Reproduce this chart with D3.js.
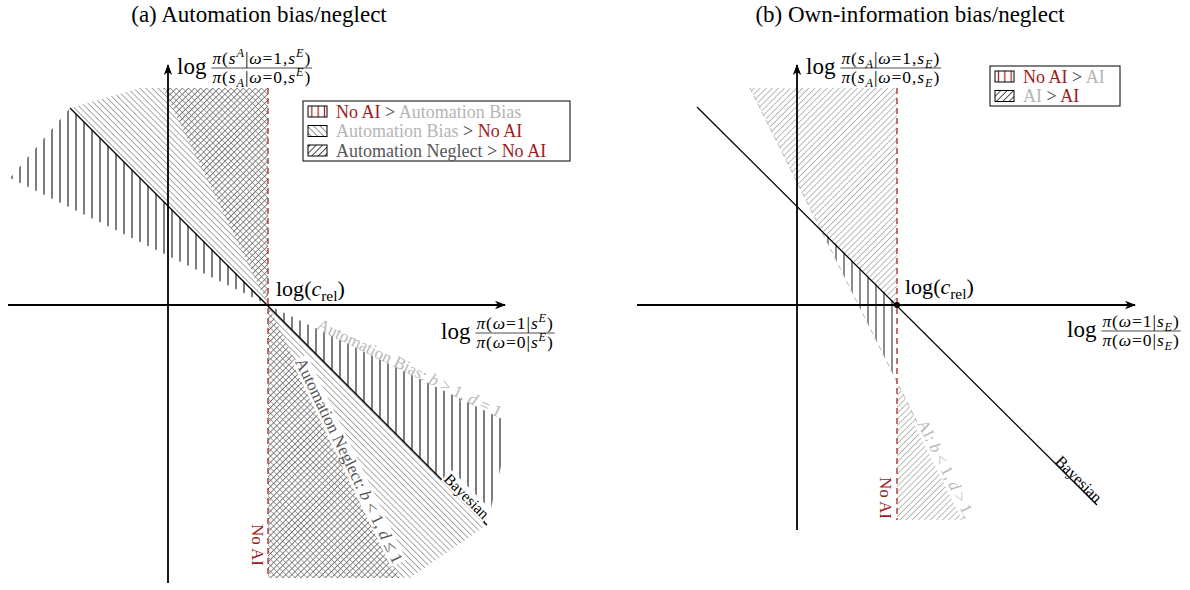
<!DOCTYPE html>
<html>
<head>
<meta charset="utf-8">
<script src="https://cdn.jsdelivr.net/npm/d3@7"></script>
<style>
  body { margin: 0; background: #fff; }
  svg { display: block; }
  text { font-family: "Liberation Serif", "DejaVu Serif", serif; }
</style>
</head>
<body>
<svg id="chart" width="1190" height="590"></svg>
<script>
// units: 1 = distance from the origin to log(c_rel) on the x axis
const cRel = [1, 0];

// ---- panel (a) automation bias / neglect ----
const aXDom = [-1.6, 3.37], aYDom = [-2.78, 2.4];
const aBayes = [[-0.98, 1.97], [3.19, -2.20]];
const aNoAI = [[1, 2.17], [1, -2.73]];
const aBiasLine = [[-1.58, 1.27], [3.34, -1.14]];      // b>1, d=1 (not stroked)
const aNeglectLine = [[-0.05, 2.17], [2.32, -2.73]];   // b<1, d<=1 (not stroked)
const aNoAIvsBiasUp = [[1, 0], [-0.98, 1.97], [-1.58, 1.27]];
const aNoAIvsBiasLow = [[1, 0], [3.34, -1.14], [3.34, -1.57], [3.19, -2.20]];
const aBiasVsNoAIUp = [[1, 0], [-0.98, 1.97], [-0.28, 2.17], [1, 2.17]];
const aBiasVsNoAILow = [[1, 0], [1, -2.73], [2.42, -2.73], [3.19, -2.20]];
const aNeglectVsNoAIUp = [[1, 0], [1, 2.17], [-0.05, 2.17]];
const aNeglectVsNoAILow = [[1, 0], [1, -2.73], [2.32, -2.73]];

// ---- panel (b) own-information bias / neglect ----
const bXDom = [-1.6, 3.38], bYDom = [-2.25, 2.4];
const bBayes = [[-1, 1.98], [3, -2]];
const bNoAI = [[1, 2.17], [1, -2.15]];
const bAILine = [[-0.47, 2.17], [1.69, -2.15]];        // b<1, d>1
const bNoAIvsAI = [[0.23, 0.77], [1, 0], [1, -0.77]];
const bAIvsAIUp = [[-0.47, 2.17], [1, 2.17], [1, 0], [0.23, 0.77]];
const bAIvsAILow = [[1, -0.77], [1, -2.15], [1.69, -2.15]];

const red = "#9e1b1b", light = "#b5b5b5", dark = "#3a3a3a", mid = "#555";

const legendA = [
  ["vLegA", [["No AI", red], [" > ", dark], ["Automation Bias", light]]],
  ["nwLeg", [["Automation Bias", light], [" > ", dark], ["No AI", red]]],
  ["neLeg", [["Automation Neglect", mid], [" > ", dark], ["No AI", red]]]
];
const legendB = [
  ["vLegB", [["No AI", red], [" > ", dark], ["AI", light]]],
  ["neLegB", [["AI", light], [" > ", dark], ["AI", red]]]
];

const svg = d3.select("#chart");
const defs = svg.append("defs");

function hatch(id, angle, gap, color, width) {
  const p = defs.append("pattern").attr("id", id)
    .attr("patternUnits", "userSpaceOnUse")
    .attr("width", gap).attr("height", gap)
    .attr("patternTransform", "rotate(" + angle + ")");
  p.append("line").attr("x1", gap / 2).attr("x2", gap / 2)
    .attr("y1", -1).attr("y2", gap + 1)
    .attr("stroke", color).attr("stroke-width", width);
}
hatch("nwA", -45, 4.3, "#8f8f8f", 0.75);
hatch("neA", 45, 4.3, "#666", 0.8);
hatch("vA", 0, 8, "#111", 1.1);
hatch("neB", 45, 4.3, "#a9a9a9", 0.8);
hatch("vB", 0, 8, "#5c5c5c", 1.4);
hatch("vLegA", 0, 6.3, red, 1.2);
hatch("vLegB", 0, 6.3, red, 1.2);
hatch("nwLeg", -45, 4.5, "#777", 0.8);
hatch("neLeg", 45, 4.5, "#222", 0.8);
hatch("neLegB", 45, 4.5, "#222", 0.8);

defs.append("marker").attr("id", "arr")
  .attr("viewBox", "0 0 12 10").attr("refX", 10).attr("refY", 5)
  .attr("markerWidth", 12).attr("markerHeight", 10)
  .attr("markerUnits", "userSpaceOnUse").attr("orient", "auto")
  .append("path").attr("d", "M0,0.8 L11,5 L0,9.2 L3,5 Z").attr("fill", "#000");

// tiny math-ish text: ^{..} superscript, _{..} subscript, single letters / greek italic
function rich(text, str, size) {
  let shift = 0;
  const toks = str.match(/(\^\{[^}]*\}|_\{[^}]*\}|[A-Za-zπω]+|[^A-Za-zπω^_]+)/g);
  toks.forEach(function(m) {
    let s = m, target = 0, fs = size;
    if (m[0] === "^") { s = m.slice(2, -1); target = -0.4 * size; fs = 0.7 * size; }
    else if (m[0] === "_") { s = m.slice(2, -1); target = 0.22 * size; fs = 0.7 * size; }
    const ital = /^[A-Za-z]$/.test(s) || /[πω]/.test(s);
    text.append("tspan")
      .attr("dy", target - shift)
      .attr("font-size", fs)
      .attr("font-style", ital ? "italic" : null)
      .text(s);
    shift = target;
  });
}

function fracLabel(g, x0, bar, num, den) {
  const lg = g.append("text").attr("x", x0).attr("y", bar + 6).attr("font-size", 23).text("log");
  const fx = x0 + lg.node().getComputedTextLength() + 5;
  const n = g.append("text").attr("y", bar - 4).attr("text-anchor", "middle").attr("letter-spacing", 0.9);
  rich(n, num, 17.5);
  const d = g.append("text").attr("y", bar + 15).attr("text-anchor", "middle").attr("letter-spacing", 0.9);
  rich(d, den, 17.5);
  const w = Math.max(n.node().getComputedTextLength(), d.node().getComputedTextLength()) + 2;
  n.attr("x", fx + w / 2);
  d.attr("x", fx + w / 2);
  g.append("line").attr("x1", fx).attr("x2", fx + w).attr("y1", bar).attr("y2", bar)
    .attr("stroke", "#000").attr("stroke-width", 0.7);
}

function lineLabel(g, x, y, seg, at, txt, color, size, dy, bg) {
  const p0 = [x(seg[0][0]), y(seg[0][1])], p1 = [x(seg[1][0]), y(seg[1][1])];
  let ang = Math.atan2(p1[1] - p0[1], p1[0] - p0[0]) * 180 / Math.PI;
  const t = g.append("g").attr("transform", "translate(" + x(at[0]) + "," + y(at[1]) + ") rotate(" + ang + ")");
  const tx = t.append("text").attr("text-anchor", "middle").attr("dy", dy)
    .attr("font-size", size).attr("fill", color);
  rich(tx, txt, size);
  if (bg) {
    const b = tx.node().getBBox();
    t.insert("rect", "text").attr("x", b.x - 1).attr("y", b.y + 1)
      .attr("width", b.width + 2).attr("height", b.height - 2).attr("fill", "#fff");
  }
}

function legend(g, x0, y0, w, h, rows) {
  g.append("rect").attr("x", x0).attr("y", y0).attr("width", w).attr("height", h)
    .attr("fill", "#fff").attr("stroke", "#000").attr("stroke-width", 1);
  rows.forEach(function(r, i) {
    const ry = y0 + 5 + i * 19.5;
    g.append("rect").attr("x", x0 + 5).attr("y", ry).attr("width", 19).attr("height", 11)
      .attr("fill", "url(#" + r[0] + ")").attr("stroke", "#000").attr("stroke-width", 1);
    const t = g.append("text").attr("x", x0 + 33).attr("y", ry + 11.5).attr("font-size", 18);
    r[1].forEach(function(p) { t.append("tspan").attr("fill", p[1]).text(p[0]); });
  });
}

function axes(g, x, y, xd, yd) {
  g.append("line").attr("x1", x(xd[0])).attr("x2", x(xd[1])).attr("y1", y(0)).attr("y2", y(0))
    .attr("stroke", "#000").attr("stroke-width", 1.8).attr("marker-end", "url(#arr)");
  g.append("line").attr("x1", x(0)).attr("x2", x(0)).attr("y1", y(yd[0])).attr("y2", y(yd[1]))
    .attr("stroke", "#000").attr("stroke-width", 1.8).attr("marker-end", "url(#arr)");
}

// ================= panel (a) =================
const xA = d3.scaleLinear().domain(aXDom).range([8, 505]);
const yA = d3.scaleLinear().domain(aYDom).range([583, 65]);
const lineA = d3.line().x(d => xA(d[0])).y(d => yA(d[1]));
const gA = svg.append("g");

[[aBiasVsNoAIUp, "nwA"], [aBiasVsNoAILow, "nwA"],
 [aNeglectVsNoAIUp, "neA"], [aNeglectVsNoAILow, "neA"],
 [aNoAIvsBiasUp, "vA"], [aNoAIvsBiasLow, "vA"]].forEach(function(r) {
  gA.append("path").attr("d", lineA(r[0]) + "Z").attr("fill", "url(#" + r[1] + ")");
});

gA.append("path").attr("d", lineA(aBayes)).attr("stroke", "#000").attr("stroke-width", 1.3).attr("fill", "none");
gA.append("path").attr("d", lineA(aNoAI)).attr("stroke", "#b03434").attr("stroke-width", 1.4)
  .attr("stroke-dasharray", "6,4").attr("fill", "none");
axes(gA, xA, yA, aXDom, aYDom);

lineLabel(gA, xA, yA, aBiasLine, [2.39, -0.68], "Automation Bias: b > 1, d = 1", "#b8b8b8", 17, -3, false);
lineLabel(gA, xA, yA, aNeglectLine, [1.76, -1.58], "Automation Neglect: b < 1, d ≤ 1", mid, 17, -3, true);
lineLabel(gA, xA, yA, aBayes, [2.95, -1.95], "Bayesian", "#000", 15.5, -2, true);
gA.append("text").attr("transform", "translate(" + xA(0.84) + "," + yA(-2.4) + ") rotate(90)")
  .attr("text-anchor", "middle").attr("font-size", 17).attr("fill", red).text("No AI");

const cA = gA.append("text").attr("x", 276).attr("y", 296);
rich(cA, "log(c_{rel})", 22);
fracLabel(gA, 177, 68, "π(s^{A}|ω=1,s^{E})", "π(s_{A}|ω=0,s^{E})");
fracLabel(gA, 441, 333, "π(ω=1|s^{E})", "π(ω=0|s^{E})");
legend(gA, 303, 101, 267, 60, legendA);
gA.append("text").attr("x", 259).attr("y", 22).attr("text-anchor", "middle").attr("font-size", 23)
  .text("(a) Automation bias/neglect");

// ================= panel (b) =================
const xB = d3.scaleLinear().domain(bXDom).range([637, 1135]);
const yB = d3.scaleLinear().domain(bYDom).range([530, 65]);
const lineB = d3.line().x(d => xB(d[0])).y(d => yB(d[1]));
const gB = svg.append("g");

[[bAIvsAIUp, "neB"], [bAIvsAILow, "neB"], [bNoAIvsAI, "vB"]].forEach(function(r) {
  gB.append("path").attr("d", lineB(r[0]) + "Z").attr("fill", "url(#" + r[1] + ")");
});
gB.append("path").attr("d", lineB(bAILine)).attr("stroke", "#b5b5b5").attr("stroke-width", 1)
  .attr("stroke-dasharray", "5,4").attr("fill", "none");

gB.append("path").attr("d", lineB(bBayes)).attr("stroke", "#000").attr("stroke-width", 1.3).attr("fill", "none");
gB.append("path").attr("d", lineB(bNoAI)).attr("stroke", "#b03434").attr("stroke-width", 1.4)
  .attr("stroke-dasharray", "6,4").attr("fill", "none");
axes(gB, xB, yB, bXDom, bYDom);
gB.append("circle").attr("cx", xB(cRel[0])).attr("cy", yB(cRel[1])).attr("r", 3).attr("fill", "#000");

lineLabel(gB, xB, yB, bAILine, [1.43, -1.64], "AI: b < 1, d > 1", "#b8b8b8", 16.5, -3, true);
lineLabel(gB, xB, yB, bBayes, [2.78, -1.78], "Bayesian", "#000", 16, -4, false);
gB.append("text").attr("transform", "translate(" + xB(0.83) + "," + yB(-1.93) + ") rotate(90)")
  .attr("text-anchor", "middle").attr("font-size", 17).attr("fill", red).text("No AI");

const cB = gB.append("text").attr("x", 905).attr("y", 294);
rich(cB, "log(c_{rel})", 22);
fracLabel(gB, 806, 68, "π(s_{A}|ω=1,s_{E})", "π(s_{A}|ω=0,s_{E})");
fracLabel(gB, 1067, 331, "π(ω=1|s_{E})", "π(ω=0|s_{E})");
legend(gB, 990, 66, 130, 40, legendB);
gB.append("text").attr("x", 910).attr("y", 22).attr("text-anchor", "middle").attr("font-size", 23)
  .text("(b) Own-information bias/neglect");
</script>
</body>
</html>
